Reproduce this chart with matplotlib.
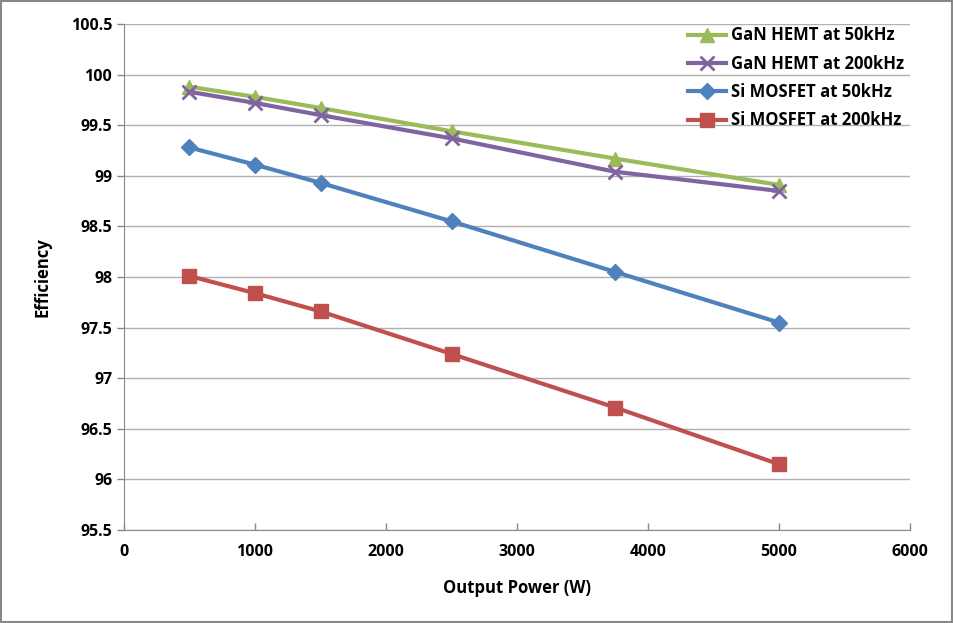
import matplotlib
matplotlib.use("Agg")
import matplotlib.pyplot as plt
from matplotlib.patches import Rectangle

power = [500, 1000, 1500, 2500, 3750, 5000]
gan_50 = [99.88, 99.78, 99.67, 99.44, 99.17, 98.91]
gan_200 = [99.83, 99.72, 99.60, 99.37, 99.04, 98.85]
si_50 = [99.28, 99.11, 98.93, 98.55, 98.05, 97.55]
si_200 = [98.01, 97.84, 97.66, 97.24, 96.71, 96.15]
labels = ["GaN HEMT at 50kHz", "GaN HEMT at 200kHz", "Si MOSFET at 50kHz", "Si MOSFET at 200kHz"]
x_ticks = [0, 1000, 2000, 3000, 4000, 5000, 6000]
y_ticks = [95.5, 96, 96.5, 97, 97.5, 98, 98.5, 99, 99.5, 100, 100.5]

plt.rcParams['font.family'] = ['Open Sans', 'DejaVu Sans']
plt.rcParams['font.weight'] = 'bold'

fig = plt.figure(figsize=(9.54, 6.23), dpi=100)
ax = fig.add_axes([124/954, 1-530/623, (910-124)/954, (530-24)/623])

ax.plot(power, gan_50, color='#9BBB59', lw=3, marker='^', ms=10, label=labels[0])
ax.plot(power, gan_200, color='#8064A2', lw=3, marker='x', ms=10, mew=2, label=labels[1])
ax.plot(power, si_50, color='#4F81BD', lw=3, marker='D', ms=8, label=labels[2])
ax.plot(power, si_200, color='#C0504D', lw=3, marker='s', ms=10, label=labels[3])

ax.set_xlim(0, 6000)
ax.set_ylim(95.5, 100.5)
ax.set_xticks(x_ticks)
ax.set_yticks(y_ticks)
ax.set_yticklabels([f"{v:g}" for v in y_ticks])
ax.grid(axis='y', color='#B0B0B0', lw=1)
ax.set_axisbelow(True)
for s in ['top', 'right']:
    ax.spines[s].set_visible(False)
for s in ['left', 'bottom']:
    ax.spines[s].set_color('#888888')
ax.tick_params(axis='both', colors='#888888', labelcolor='black', labelsize=11.5, length=5, width=1)
ax.tick_params(axis='x', direction='in', pad=10)
ax.tick_params(axis='y', direction='out')
for lab in ax.get_xticklabels() + ax.get_yticklabels():
    lab.set_fontweight('bold')
ax.set_xlabel("Output Power (W)", fontsize=12, fontweight='bold', labelpad=14)
ax.set_ylabel("Efficiency", fontsize=12, fontweight='bold', labelpad=14)

leg = ax.legend(loc='upper right', bbox_to_anchor=(1.012, 1.025), frameon=False,
                prop={'size': 12, 'weight': 'bold'},
                handlelength=2.3, handletextpad=0.3, labelspacing=0.62)

fig.add_artist(Rectangle((0.001, 0.001), 0.997, 0.997, transform=fig.transFigure,
                         fill=False, edgecolor='#888888', lw=1.5))

fig.savefig("out.png", dpi=100)
